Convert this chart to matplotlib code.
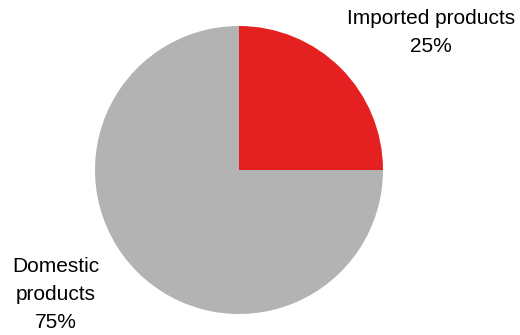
import matplotlib.pyplot as plt

plt.rcParams['font.family'] = ['Liberation Sans', 'DejaVu Sans']

labels = ["Imported products", "Domestic\nproducts"]
shares = [25, 75]
colors = ["#E52020", "#B3B3B3"]

W, H = 520, 335
fig = plt.figure(figsize=(W / 100, H / 100), dpi=100)

# pie centred at (239, 170) px with a 144 px radius
cx, cy, r = 239, H - 170, 144
ax = fig.add_axes([(cx - r) / W, (cy - r) / H, 2 * r / W, 2 * r / H])
ax.pie(shares, colors=colors, startangle=90, counterclock=False,
       radius=1, wedgeprops=dict(linewidth=0))
ax.set_xlim(-1, 1)
ax.set_ylim(-1, 1)
ax.set_aspect('equal')
ax.axis('off')

fig.text(431 / W, 1 - 32 / H, f"{labels[0]}\n{shares[0]}%",
         ha='center', va='center', fontsize=15, linespacing=1.6)
fig.text(56 / W, 1 - 294 / H, f"{labels[1]}\n{shares[1]}%",
         ha='center', va='center', fontsize=15, linespacing=1.6)

fig.savefig("out.png", dpi=100)
